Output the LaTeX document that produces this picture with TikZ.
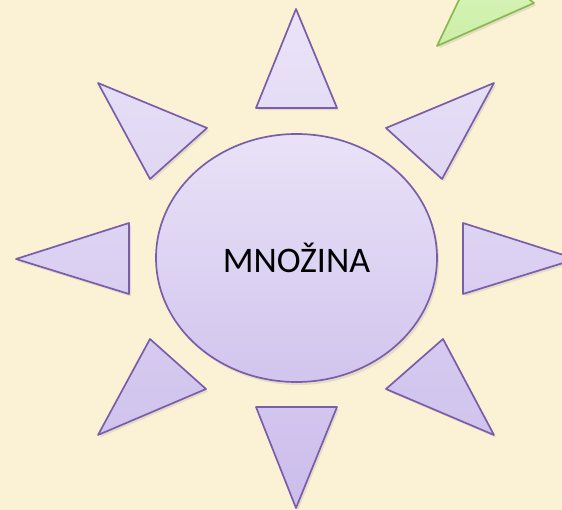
\documentclass[tikz,border=0pt]{standalone}
\usepackage{fontspec}
\setmainfont{Carlito}
\usetikzlibrary{shapes.geometric,shadows}

\definecolor{parchment}{RGB}{251,241,213}
\definecolor{lilacedge}{RGB}{122,94,170}
\definecolor{lilactop}{RGB}{234,228,248}
\definecolor{lilacbot}{RGB}{204,189,235}
\definecolor{leafedge}{RGB}{140,184,80}
\definecolor{leaftop}{RGB}{218,246,190}
\definecolor{leafbot}{RGB}{204,238,168}

\tikzset{
    ray/.style={draw=lilacedge, line width=1.7pt, line join=round,
        top color=lilactop, bottom color=lilacbot,
        drop shadow={shadow xshift=2pt, shadow yshift=-2.5pt, opacity=0.18}},
    setbox/.style={ellipse, draw=lilacedge, line width=1.7pt, inner sep=0pt,
        top color=lilactop!95!lilacbot, bottom color=lilacbot!80!lilactop,
        minimum width=281pt, minimum height=248pt,
        drop shadow={shadow xshift=2pt, shadow yshift=-3pt, opacity=0.18},
        font=\fontsize{36}{40}\selectfont},
    leaf/.style={draw=leafedge, line width=1.7pt, line join=round,
        top color=leaftop, bottom color=leafbot,
        drop shadow={shadow xshift=2pt, shadow yshift=-2.5pt, opacity=0.18}}
}

\begin{document}
\begin{tikzpicture}[x=1pt, y=-1pt]
        \fill[parchment] (0,0) rectangle (562,510);
        \clip (0,0) rectangle (562,510);

        \draw[leaf] (437,46) -- (534,3) -- (478,-40) -- cycle;

        \draw[ray] (296,9) -- (337,108) -- (256,108) -- cycle
                   (98,83) -- (207,128) -- (150,179) -- cycle
                   (494,83) -- (442,179) -- (386,128) -- cycle
                   (16,259) -- (129,223) -- (129,294) -- cycle
                   (576,259) -- (463,294) -- (463,223) -- cycle
                   (150,339) -- (206,389) -- (98,435) -- cycle
                   (443,339) -- (494,435) -- (386,389) -- cycle
                   (296,508) -- (256,407) -- (337,407) -- cycle;

        \node[setbox] (set) at (296.5,258) {MNOŽINA};
\end{tikzpicture}
\end{document}
